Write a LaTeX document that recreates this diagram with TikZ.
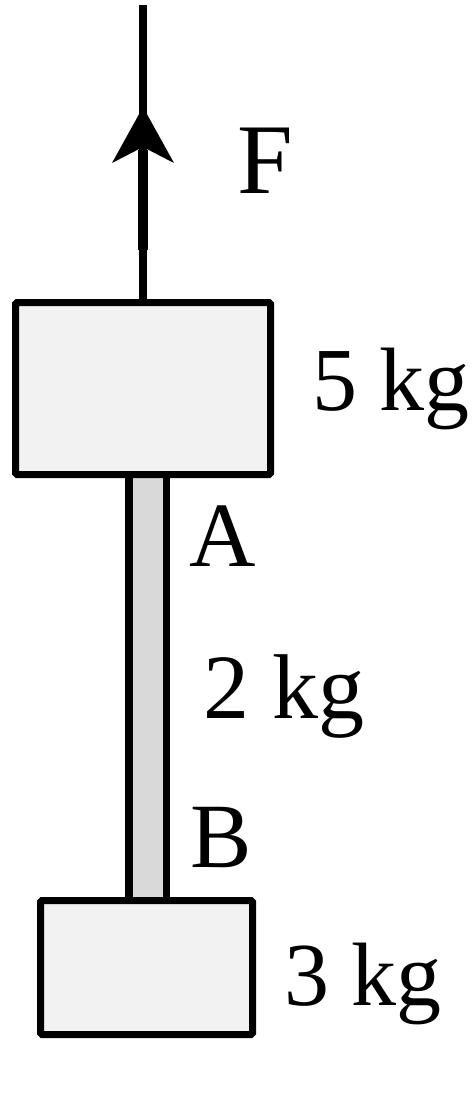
\documentclass[tikz,border=0pt]{standalone}
\usepackage{fontspec}
\setmainfont{Liberation Serif}
\definecolor{boxfill}{HTML}{F2F2F2}
\definecolor{rodfill}{HTML}{D9D9D9}
\begin{document}
\begin{tikzpicture}[x=1pt,y=-1pt,
  mass/.style={draw=black,line width=7pt,fill=boxfill,rectangle,rounded corners=1.5pt,inner sep=0pt},
  rodbox/.style={draw=black,line width=7.5pt,fill=rodfill,rectangle,inner sep=0pt},
  lbl/.style={anchor=base west,inner sep=0pt,font=\fontsize{92}{92}\selectfont}]
\useasboundingbox[fill=white] (0,0) rectangle (474,1100);
% rod (behind boxes)
\node[rodbox,minimum width=37.5pt,minimum height=428pt] (rod) at (147.5,688) {};
% masses
\node[mass,minimum width=255pt,minimum height=172pt] (m5) at (143,388.5) {};
\node[mass,minimum width=212pt,minimum height=134pt] (m3) at (146.5,967.5) {};
% force line
\coordinate (ftop) at (143,5);
\coordinate (thickend) at (143,250);
\coordinate (tip) at (143,107);
\draw[line width=7.5pt] (m5.north) -- (ftop);
\draw[line width=10.5pt] (thickend) -- (143,150);
\fill (tip) -- (174,163) -- (143,147) -- (112,163) -- cycle;
% labels
\node[lbl,font=\fontsize{100}{100}\selectfont] (F) at (237,193) {F};
\node[lbl,font=\fontsize{90}{90}\selectfont] (l5) at (312,410) {5 kg};
\node[lbl] (A) at (189,566) {A};
\node[lbl] (l2) at (203,718) {2 kg};
\node[lbl] (B) at (190,867) {B};
\node[lbl,font=\fontsize{90}{90}\selectfont] (l3) at (284,1005) {3 kg};
\end{tikzpicture}
\end{document}
